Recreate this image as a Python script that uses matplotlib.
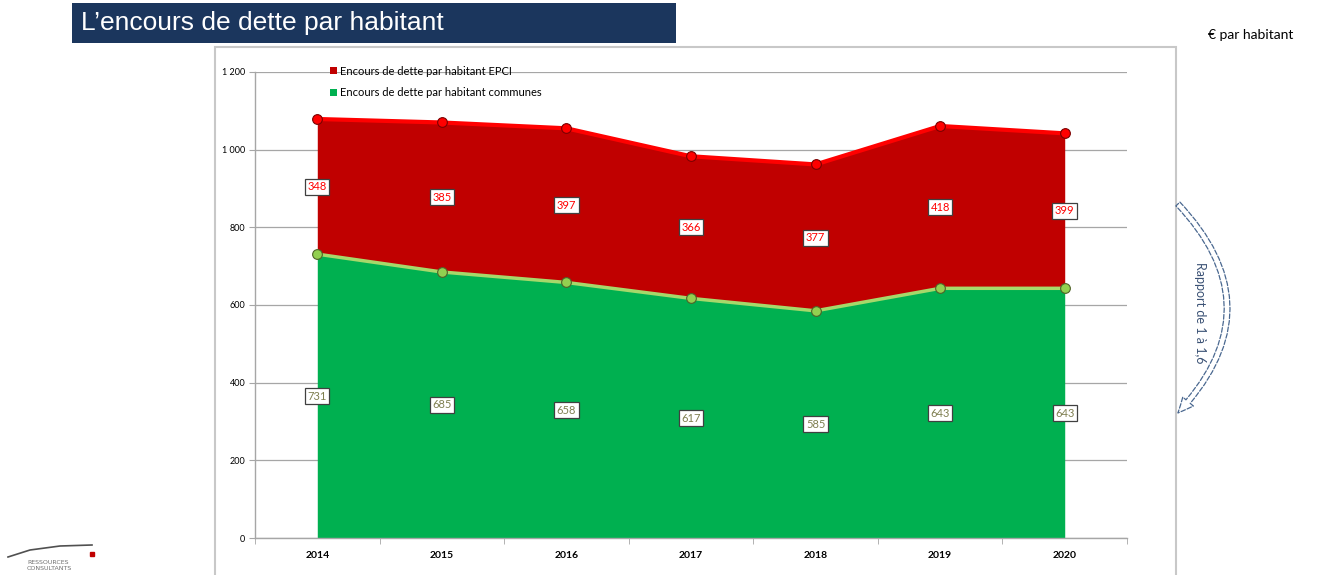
import numpy as np
import matplotlib
matplotlib.use('Agg')
import matplotlib.pyplot as plt
from matplotlib.patches import Rectangle, Patch, FancyArrowPatch
from matplotlib.lines import Line2D

# Données
annees = ['2014', '2015', '2016', '2017', '2018', '2019', '2020']
communes = [731, 685, 658, 617, 585, 643, 643]
epci = [348, 385, 397, 366, 377, 418, 399]
yticks = [0, 200, 400, 600, 800, 1000, 1200]
ytick_labels = ['0', '200', '400', '600', '800', '1 000', '1 200']

VERT = '#00b050'
ROUGE = '#c00000'

W, H = 1317, 575
fig = plt.figure(figsize=(W / 100, H / 100), dpi=100)

def fx(px):
    return px / W

def fy(py):
    return 1 - py / H

# Bandeau titre
fig.add_artist(Rectangle((fx(72), fy(43)), fx(676) - fx(72), fy(3) - fy(43),
                         transform=fig.transFigure, facecolor='#1b365d',
                         edgecolor='none'))
fig.text(fx(81), fy(23), "L\u2019encours de dette par habitant", color='white',
         fontsize=19, family='Liberation Sans', va='center', ha='left')
fig.text(fx(1208), fy(35), "\u20ac par habitant", fontsize=10, family='Lato',
         va='center', ha='left', color='black')

# Cadre du graphique
fig.add_artist(Rectangle((fx(215), fy(580)), fx(1176) - fx(215), fy(47) - fy(580),
                         transform=fig.transFigure, facecolor='none',
                         edgecolor='#c8c8c8', lw=1.5))

ax = fig.add_axes([fx(255), fy(538), fx(1127) - fx(255), fy(72) - fy(538)])
x = np.arange(len(annees))
total = np.array(communes) + np.array(epci)

ax.fill_between(x, 0, communes, color=VERT, lw=0, zorder=2)
ax.fill_between(x, communes, total, color=ROUGE, lw=0, zorder=2)
ax.plot(x, total, color='#ff0000', lw=3, marker='o', ms=7,
        mfc='#ff0000', mec='#7a0000', mew=0.8, zorder=4)
ax.plot(x, communes, color='#a6d86a', lw=2.5, marker='o', ms=7,
        mfc='#92d050', mec='#4f6228', mew=0.8, zorder=4)

# Étiquettes de données
for i in range(len(annees)):
    ax.text(x[i], communes[i] / 2, str(communes[i]), ha='center', va='center',
            fontsize=8, family='Lato', color='#7f7f50', zorder=5,
            bbox=dict(boxstyle='square,pad=0.22', fc='white', ec='#404040', lw=0.9))
    ax.text(x[i], communes[i] + epci[i] / 2, str(epci[i]), ha='center', va='center',
            fontsize=8, family='Lato', color='#ff0000', zorder=5,
            bbox=dict(boxstyle='square,pad=0.22', fc='white', ec='#404040', lw=0.9))

ax.set_xlim(-0.5, len(annees) - 0.5)
ax.set_ylim(0, 1200)
ax.set_yticks(yticks)
ax.set_yticklabels(ytick_labels, fontsize=6.5, family='Lato')
ax.grid(axis='y', color='#a6a6a6', lw=0.9, zorder=1)
ax.set_xticks(x)
ax.set_xticklabels(annees, fontsize=7.5, family='Lato', fontweight='bold')
ax.set_xticks(np.arange(-0.5, len(annees), 1), minor=True)
ax.tick_params(axis='x', which='major', length=0, pad=9)
ax.tick_params(axis='x', which='minor', length=4, color='#a6a6a6', direction='out')
ax.tick_params(axis='y', length=4, color='#a6a6a6', direction='out', pad=3)
for s in ['top', 'right']:
    ax.spines[s].set_visible(False)
for s in ['left', 'bottom']:
    ax.spines[s].set_color('#a6a6a6')
    ax.spines[s].set_linewidth(1)

handles = [Patch(facecolor=ROUGE, edgecolor='none'),
           Patch(facecolor=VERT, edgecolor='none')]
ax.legend(handles, ['Encours de dette par habitant EPCI',
                    'Encours de dette par habitant communes'],
          loc='upper left', bbox_to_anchor=(0.075, 1.035), frameon=False,
          prop={'family': 'Lato', 'size': 8}, handlelength=0.6,
          handleheight=0.6, handletextpad=0.25, labelspacing=0.95)

# Flèche "Rapport de 1 à 1,6"
arr = FancyArrowPatch((fx(1176), fy(202)), (fx(1176), fy(415)),
                      transform=fig.transFigure,
                      connectionstyle='arc3,rad=-0.48',
                      arrowstyle='simple,head_width=10,head_length=11,tail_width=4',
                      facecolor='none', edgecolor='#4a6890', lw=0.9, ls='--')
fig.add_artist(arr)
fig.text(fx(1200), fy(313), 'Rapport de 1 \u00e0 1,6', rotation=-90,
         ha='center', va='center', fontsize=9, family='Lato', color='#3b5275')

# Logo
fig.add_artist(Line2D([fx(8), fx(30), fx(60), fx(92)],
                      [fy(557), fy(550), fy(546), fy(545)],
                      transform=fig.transFigure, color='#505050', lw=1.2))
fig.add_artist(Rectangle((fx(90), fy(556)), fx(4) - fx(0), fy(0) - fy(4),
                         transform=fig.transFigure, color='#c00000'))
fig.text(fx(27), fy(562), 'RESSOURCES', fontsize=4.5, color='#707070',
         family='DejaVu Sans', va='center')
fig.text(fx(27), fy(569), 'CONSULTANTS', fontsize=4.5, color='#707070',
         family='DejaVu Sans', va='center')

fig.savefig('out.png', dpi=100)
